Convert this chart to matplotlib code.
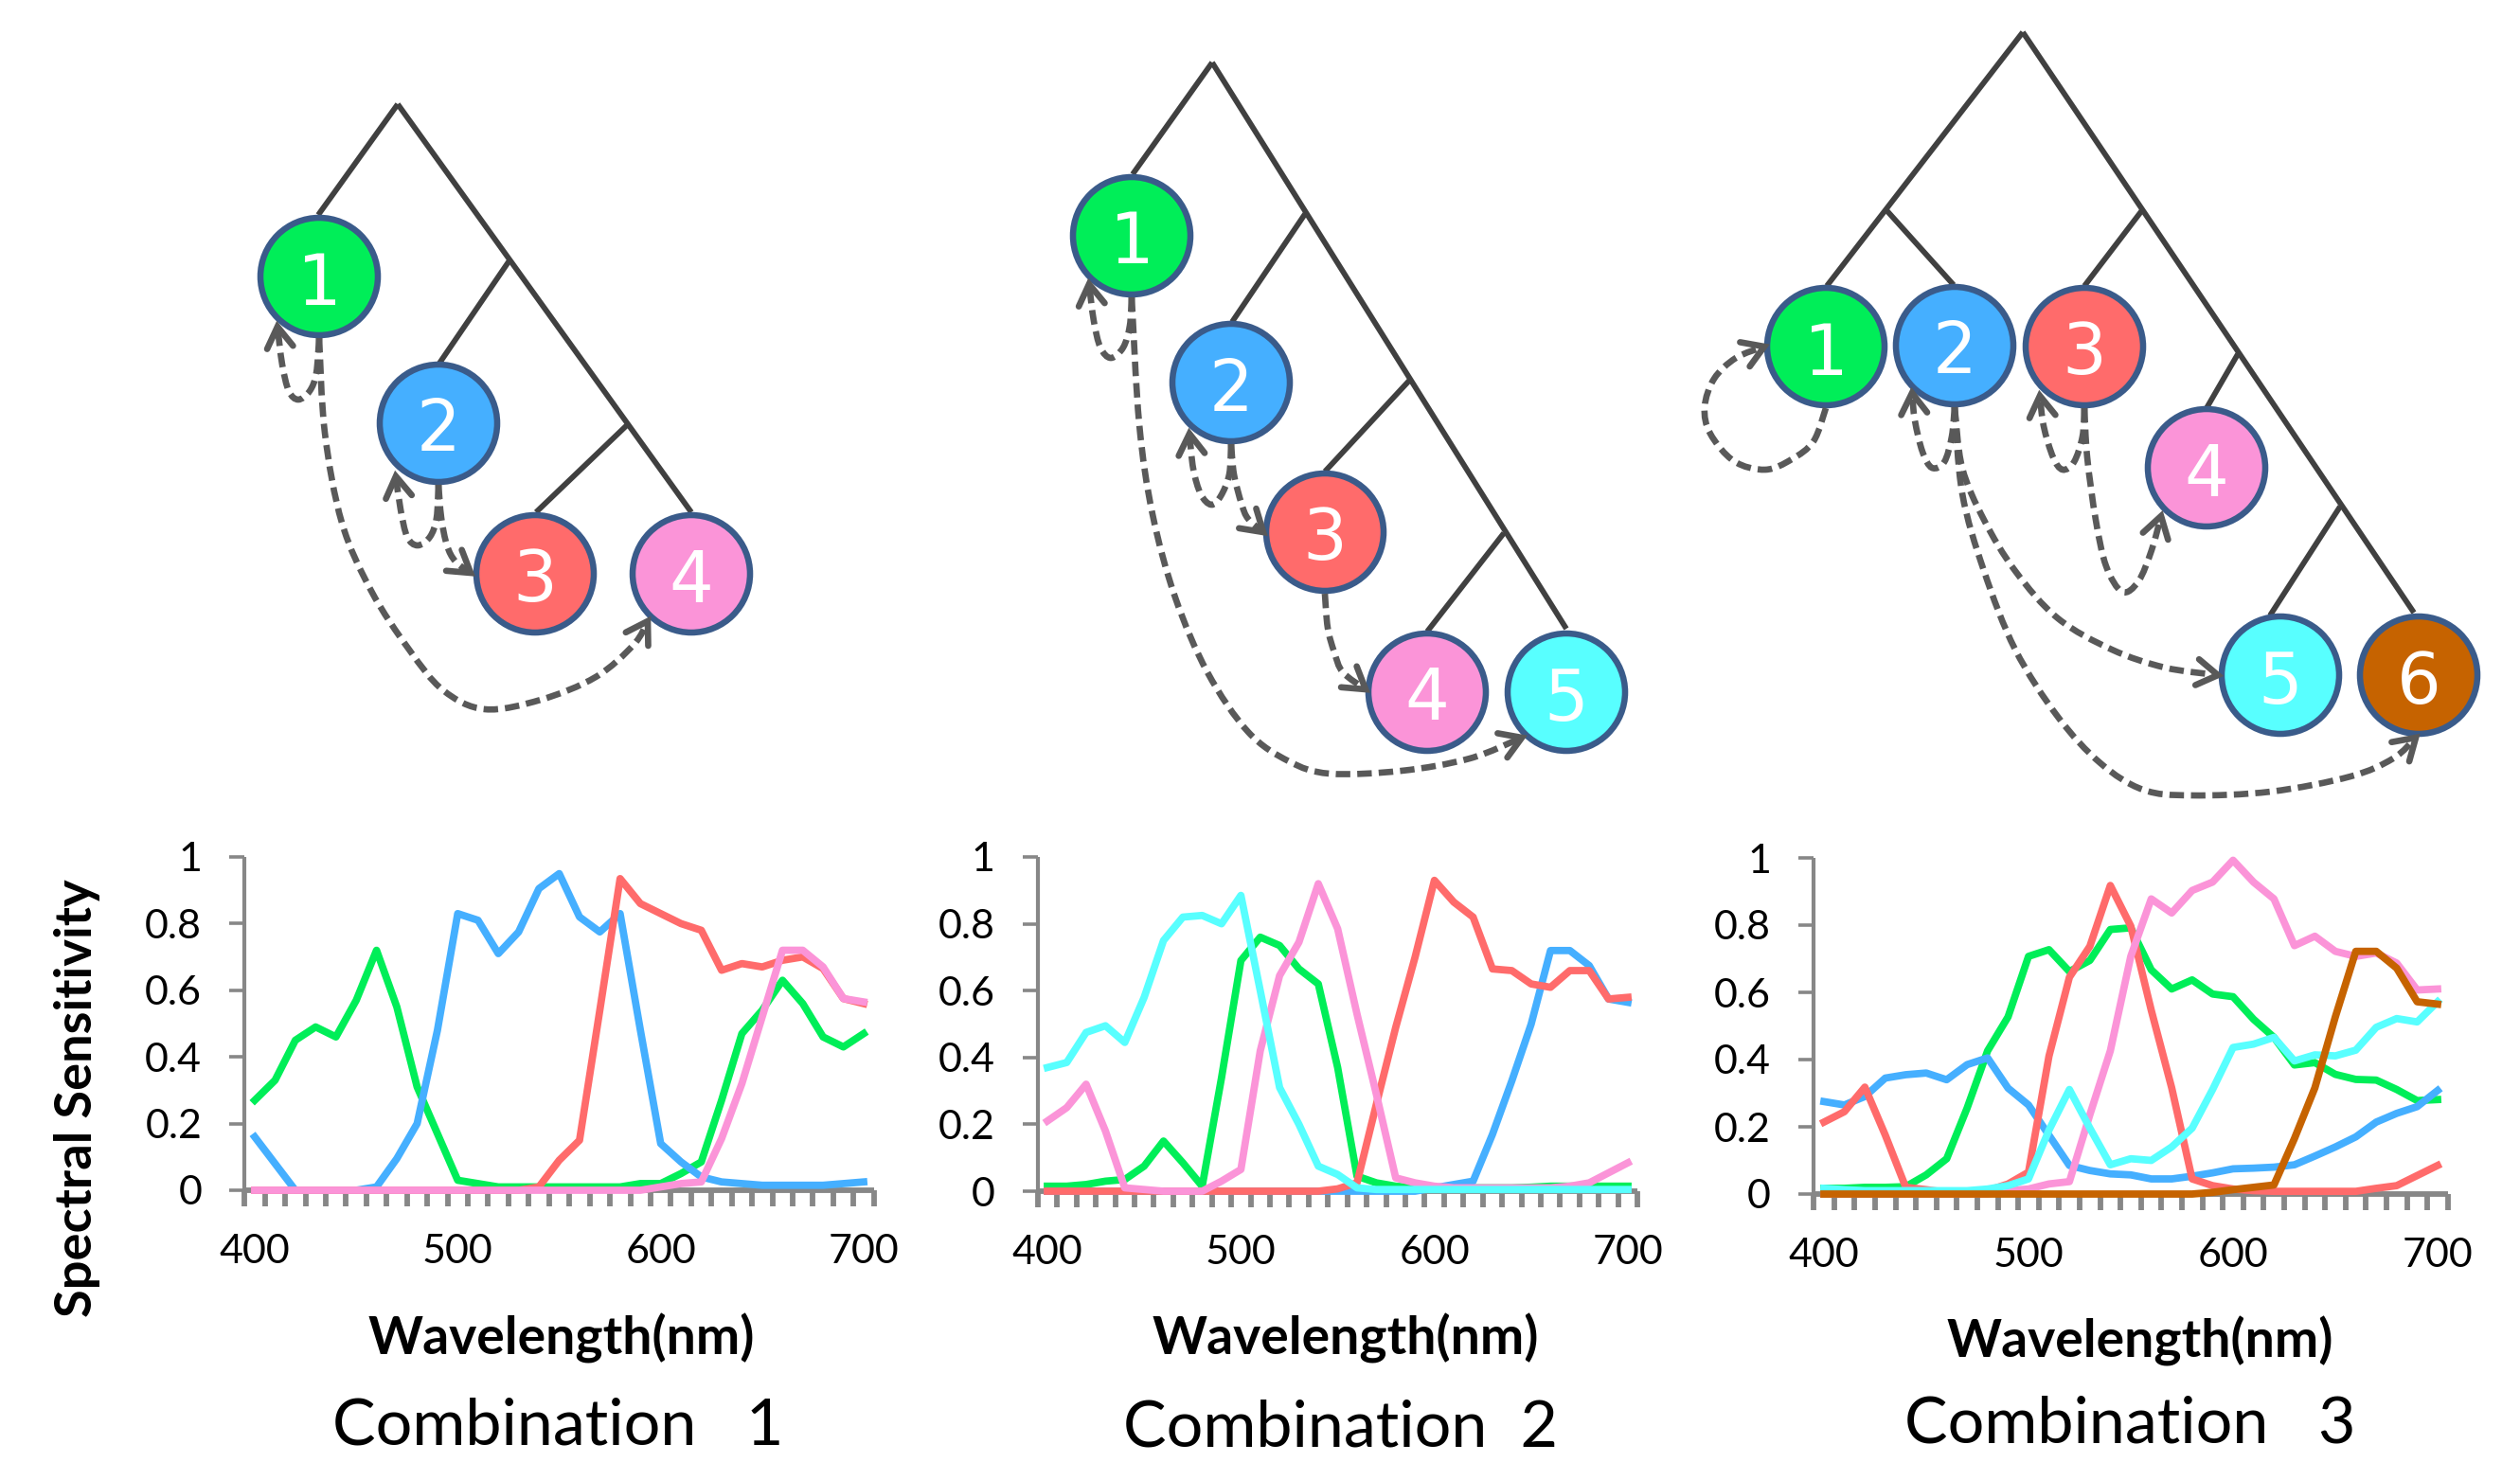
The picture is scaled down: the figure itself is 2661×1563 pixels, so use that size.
import matplotlib
matplotlib.use("Agg")
import matplotlib.pyplot as plt
import numpy as np
from matplotlib.patches import Circle, PathPatch
from matplotlib.path import Path

W, H = 2661, 1563

# ---------------- data ----------------
wavelength = list(range(400, 701, 10))
xtick_labels = ["400", "500", "600", "700"]
ytick_labels = ["0", "0.2", "0.4", "0.6", "0.8", "1"]

# Combination 1
c1_green = [.27, .33, .45, .49, .46, .57, .72, .55, .31, .17, .03, .02, .01, .01, .01, .01, .01, .01, .01, .02,
            .02, .05, .085, .27, .47, .54, .63, .56, .46, .43, .47]
c1_blue = [.16, .08, 0, 0, 0, 0, .01, .095, .2, .48, .83, .81, .71, .775, .905, .95, .82, .775, .83, .48,
           .14, .085, .04, .025, .02, .015, .015, .015, .015, .02, .025]
c1_red = [0, 0, 0, 0, 0, 0, 0, 0, 0, 0, 0, 0, 0, 0, .01, .09, .15, .54, .935, .86,
          .83, .80, .78, .66, .68, .67, .69, .70, .665, .575, .56]
c1_pink = [0, 0, 0, 0, 0, 0, 0, 0, 0, 0, 0, 0, 0, 0, 0, 0, 0, 0, 0, 0,
           .01, .02, .025, .155, .32, .52, .72, .72, .67, .575, .565]

# Combination 2
c2_green = [.015, .015, .02, .03, .035, .075, .15, .085, .015, .34, .69, .76, .735, .665, .62, .37, .045, .025,
            .015, .01, .01, .01, .01, .01, .01, .012, .015, .015, .015, .015, .015]
c2_blue = [0, 0, 0, 0, 0, 0, 0, 0, 0, 0, 0, 0, 0, 0, 0, 0, 0, 0, 0, 0,
           .01, .02, .03, .17, .33, .50, .72, .72, .675, .575, .565]
c2_red = [0, 0, 0, 0, 0, 0, 0, 0, 0, 0, 0, 0, 0, 0, 0, .007, .025, .26, .49, .70,
          .93, .865, .82, .665, .66, .62, .61, .66, .66, .575, .58]
c2_pink = [.21, .25, .32, .18, .01, .005, 0, 0, 0, .03, .065, .42, .645, .745, .92, .785, .53, .29, .04, .025,
           .015, .01, .01, .01, .01, .01, .01, .015, .025, .055, .085]
c2_cyan = [.37, .385, .475, .495, .445, .58, .75, .82, .825, .80, .885, .60, .31, .20, .075, .05, .01, .005, .005,
           .005, .005, .005, .005, .005, .005, .005, .005, .005, .005, .005, .005]

# Combination 3
c3_green = [.017, .017, .02, .02, .022, .057, .105, .256, .426, .527, .707, .727, .662, .695, .787, .792, .667,
            .61, .637, .595, .587, .52, .466, .384, .391, .356, .341, .339, .311, .278, .281]
c3_blue = [.275, .265, .29, .345, .355, .36, .34, .385, .405, .315, .265, .175, .085, .07, .06, .057, .045, .045,
           .053, .063, .075, .077, .08, .087, .113, .14, .17, .214, .24, .26, .308]
c3_red = [.214, .245, .318, .175, .02, .013, .005, .005, .01, .03, .065, .41, .645, .737, .918, .797, .547, .316,
          .045, .025, .015, .01, .008, .008, .008, .008, .008, .017, .025, .055, .085]
c3_pink = [0, 0, 0, 0, 0, 0, 0, 0, 0, .01, .015, .03, .037, .236, .426, .707, .878, .836, .903, .928,
           .993, .928, .878, .739, .767, .722, .707, .717, .687, .607, .61]
c3_cyan = [.017, .013, .01, .01, .01, .01, .01, .01, .015, .025, .045, .19, .311, .196, .087, .105, .1, .14, .196,
           .311, .436, .446, .466, .396, .414, .411, .428, .496, .522, .512, .572]
c3_brown = [0, 0, 0, 0, 0, 0, 0, 0, 0, 0, 0, 0, 0, 0, 0, 0, 0, 0, 0, .005,
            .013, .02, .027, .165, .316, .527, .722, .722, .672, .572, .565]

titles = ["Combination   1", "Combination  2", "Combination   3"]
xlabel = "Wavelength(nm)"
ylabel = "Spectral Sensitivity"

# ---------------- style ----------------
COL = {"green": "#00EE58", "blue": "#45AFFF", "red": "#FF6B6B", "pink": "#FB94D8",
       "cyan": "#58FFFF", "brown": "#C66300"}
EDGE = "#3A5B8A"
TREE = "#404040"
ARROW = "#595959"
AXC = "#878787"
TXT_FONT = ["Lato", "DejaVu Sans"]
LW_DATA = 5.6
LW_TREE = 4.2
LW_ARROW = 4.8
LW_EDGE = 4.7

fig = plt.figure(figsize=(W / 100, H / 100), dpi=100)
bg = fig.add_axes([0, 0, 1, 1])
bg.set_xlim(0, W)
bg.set_ylim(H, 0)
bg.axis("off")
renderer = fig.canvas.get_renderer()


def fit(t, target, vertical=False):
    bb = t.get_window_extent(renderer)
    w = bb.height if vertical else bb.width
    t.set_fontsize(t.get_fontsize() * target / w)
    return t.get_fontsize()


# ---------------- spectral panels ----------------
panels = [
    dict(x400=269, x700=912, y0=1257, y1=905,
         series=[(c1_green, "green"), (c1_blue, "blue"), (c1_red, "red"), (c1_pink, "pink")]),
    dict(x400=1106, x700=1719, y0=1258, y1=905,
         series=[(c2_green, "green"), (c2_blue, "blue"), (c2_red, "red"), (c2_pink, "pink"), (c2_cyan, "cyan")]),
    dict(x400=1926, x700=2574, y0=1261, y1=906,
         series=[(c3_green, "green"), (c3_blue, "blue"), (c3_red, "red"), (c3_pink, "pink"), (c3_cyan, "cyan"),
                 (c3_brown, "brown")]),
]

for p in panels:
    per = (p["x700"] - p["x400"]) / 300.0
    left = p["x400"] - 5 * per
    right = p["x700"] + 5 * per
    ax = fig.add_axes([left / W, 1 - p["y0"] / H, (right - left) / W, (p["y0"] - p["y1"]) / H])
    ax.set_xlim(395, 705)
    ax.set_ylim(0, 1)
    ax.patch.set_alpha(0)
    for s in ["top", "right"]:
        ax.spines[s].set_visible(False)
    ax.spines["left"].set_color(AXC)
    ax.spines["left"].set_linewidth(3.0)
    ax.spines["bottom"].set_color(AXC)
    ax.spines["bottom"].set_linewidth(4.2)
    for s in ["left", "bottom"]:
        ax.spines[s].set_capstyle("butt")
    ax.set_yticks([0, .2, .4, .6, .8, 1.0])
    ax.set_yticklabels(ytick_labels)
    ax.set_xticks([400, 500, 600, 700])
    ax.set_xticklabels(xtick_labels)
    ax.set_xticks(np.arange(395, 706, 10), minor=True)
    ax.tick_params(axis="y", direction="out", length=11.5, width=2.6, color=AXC, labelsize=31, pad=21)
    ax.tick_params(axis="x", which="major", length=0, labelsize=31, pad=33)
    ax.tick_params(axis="x", which="minor", direction="out", length=12.5, width=4.2, color=AXC)
    for lab in ax.get_xticklabels() + ax.get_yticklabels():
        lab.set_family(TXT_FONT)
    for vals, c in p["series"]:
        ax.plot(wavelength, vals, color=COL[c], lw=LW_DATA, clip_on=False, zorder=3)

# axis titles
ylab = bg.text(82, 1160, ylabel, rotation=90, ha="center", va="center", fontsize=30,
               fontweight="bold", family=TXT_FONT)
fit(ylab, 462, vertical=True)
xl_pos = [(593, 1413), (1421, 1413), (2260, 1416)]
xs = None
for (x, y) in xl_pos:
    t = bg.text(x, y, xlabel, ha="center", va="center", fontsize=30, fontweight="bold", family=TXT_FONT)
    if xs is None:
        xs = fit(t, 408)
    else:
        t.set_fontsize(xs)

probe = bg.text(0, 0, "Combination", fontsize=40, family=TXT_FONT)
cs = fit(probe, 384)
probe.remove()
tt_pos = [(589, 1506), (1415, 1508), (2249, 1505)]
for (x, y), s in zip(tt_pos, titles):
    bg.text(x, y, s, ha="center", va="center", fontsize=cs, family=TXT_FONT)

# ---------------- trees ----------------
R = 62


def node(x, y, label, color):
    bg.add_patch(Circle((x, y), R, facecolor=color, edgecolor=EDGE, lw=LW_EDGE, zorder=5))
    bg.text(x, y + 29.5, label, ha="center", va="baseline", color="white", fontsize=53,
            family="DejaVu Sans", zorder=6)


def tline(pts):
    for a, b in zip(pts[:-1], pts[1:]):
        bg.plot([a[0], b[0]], [a[1], b[1]], color=TREE, lw=LW_TREE, solid_capstyle="butt", zorder=4)


def arrow(points):
    pts = np.array(points, float)
    verts = [pts[0]]
    codes = [Path.MOVETO]
    n = len(pts)
    for i in range(n - 1):
        p0 = pts[i - 1] if i > 0 else pts[i]
        p1 = pts[i]
        p2 = pts[i + 1]
        p3 = pts[i + 2] if i + 2 < n else pts[i + 1]
        c1 = p1 + (p2 - p0) / 6.0
        c2 = p2 - (p3 - p1) / 6.0
        verts += [c1, c2, p2]
        codes += [Path.CURVE4] * 3
    bg.add_patch(PathPatch(Path(verts, codes), fill=False, edgecolor=ARROW, lw=LW_ARROW,
                           linestyle=(0, (2.3, 1.1)), capstyle="butt", zorder=7))
    tip = pts[-1]
    d = tip - pts[-2]
    d = d / np.hypot(*d)
    L = 26
    arms = []
    for ang in (np.radians(32), -np.radians(32)):
        rot = np.array([[np.cos(ang), -np.sin(ang)], [np.sin(ang), np.cos(ang)]])
        arms.append(tip - L * rot.dot(d))
    bg.plot([arms[0][0], tip[0], arms[1][0]], [arms[0][1], tip[1], arms[1][1]], color=ARROW, lw=LW_ARROW,
            solid_capstyle="round", solid_joinstyle="miter", zorder=7)


# Tree 1
tline([(336, 227), (420, 110), (730, 541)])
tline([(538, 275), (463, 385)])
tline([(662, 449), (566, 541)])
node(337, 292, "1", COL["green"])
node(463, 447, "2", COL["blue"])
node(565, 606, "3", COL["red"])
node(730, 606, "4", COL["pink"])
arrow([(337, 357), (334, 394), (327, 413), (315, 422), (305, 413), (298, 385), (293, 345)])
arrow([(337, 357), (343, 457), (361, 552), (392, 624), (432, 686), (468, 729), (512, 749), (571, 739),
       (629, 715), (669, 681), (684, 656)])
arrow([(463, 512), (461, 547), (454, 567), (441, 576), (430, 567), (423, 538), (418, 503)])
arrow([(463, 512), (466, 547), (472, 576), (481, 593), (497, 605)])

# Tree 2
tline([(1196, 184), (1280, 66), (1654, 664)])
tline([(1378, 226), (1301, 340)])
tline([(1488, 402), (1399, 498)])
tline([(1588, 563), (1507, 667)])
node(1195, 249, "1", COL["green"])
node(1300, 404, "2", COL["blue"])
node(1399, 562, "3", COL["red"])
node(1507, 731, "4", COL["pink"])
node(1654, 731, "5", COL["cyan"])
arrow([(1195, 314), (1193, 344), (1186, 367), (1173, 378), (1162, 367), (1155, 339), (1150, 300)])
arrow([(1195, 314), (1203, 448), (1217, 543), (1241, 631), (1275, 710), (1318, 773), (1361, 804),
       (1404, 817), (1480, 814), (1552, 801), (1607, 779)])
arrow([(1300, 469), (1298, 501), (1289, 524), (1279, 533), (1268, 522), (1260, 495), (1256, 458)])
arrow([(1300, 469), (1303, 501), (1311, 532), (1318, 548), (1334, 562)])
arrow([(1399, 627), (1402, 663), (1409, 689), (1418, 710), (1442, 728)])

# Tree 3
tline([(1929, 302), (2136, 34), (2549, 647)])
tline([(1992, 222), (2063, 301)])
tline([(2262, 222), (2201, 302)])
tline([(2363, 374), (2330, 431)])
tline([(2471, 535), (2397, 650)])
node(1928, 366, "1", COL["green"])
node(2064, 365, "2", COL["blue"])
node(2201, 366, "3", COL["red"])
node(2330, 494, "4", COL["pink"])
node(2408, 713, "5", COL["cyan"])
node(2554, 713, "6", COL["brown"])
arrow([(1928, 431), (1915, 466), (1892, 485), (1864, 496), (1831, 487), (1806, 458), (1800, 430),
       (1810, 400), (1833, 378), (1863, 366)])
arrow([(2064, 430), (2061, 461), (2053, 488), (2040, 494), (2030, 477), (2022, 444), (2019, 415)])
arrow([(2201, 431), (2199, 461), (2190, 488), (2178, 496), (2168, 483), (2158, 450), (2154, 418)])
arrow([(2201, 431), (2204, 483), (2213, 549), (2224, 598), (2241, 625), (2258, 614), (2272, 581),
       (2282, 545)])
arrow([(2064, 430), (2072, 494), (2095, 549), (2128, 603), (2173, 653), (2230, 686), (2286, 705),
       (2342, 713)])
arrow([(2064, 430), (2072, 521), (2095, 603), (2128, 686), (2173, 757), (2218, 806), (2263, 834),
       (2314, 840), (2398, 836), (2482, 820), (2527, 801), (2551, 779)])

fig.savefig("out.png", dpi=100)
